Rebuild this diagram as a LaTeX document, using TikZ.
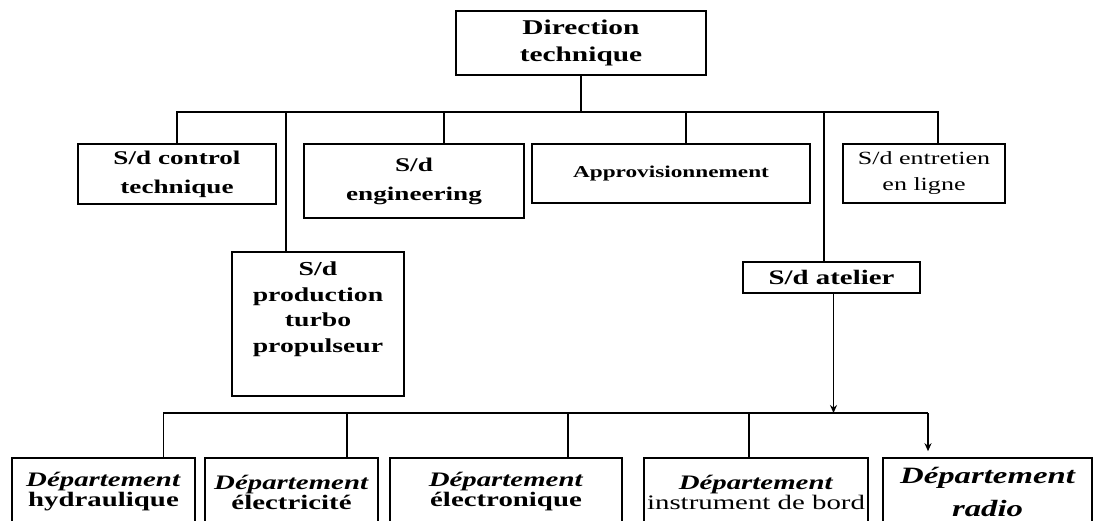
\documentclass[tikz,border=0pt]{standalone}
\usepackage{fontspec}
\setmainfont{Liberation Serif}[FakeStretch=1.4]
\usetikzlibrary{arrows.meta}

\tikzset{
  box/.style={draw, line width=0.8pt, inner sep=1pt, align=center},
  dept/.style={box, minimum height=34pt, font=\fontsize{10.3}{10}\selectfont\bfseries},
  link/.style={line width=0.7pt},
  tip/.style={link, -{Stealth[length=4pt,width=3.5pt]}}
}

\begin{document}
\begin{tikzpicture}[x=0.5pt,y=-0.5pt]
    \useasboundingbox (0,0) rectangle (1101,520);

    \node[box, minimum width=125pt, minimum height=32pt, font=\fontsize{10.5}{13.5}\selectfont\bfseries] (dir) at (581,43) {Direction\\technique};

    \node[box, minimum width=99pt, minimum height=30pt, font=\fontsize{9.7}{14.5}\selectfont\bfseries] (ctrl) at (177,174) {S/d control\\technique};
    \node[box, minimum width=110pt, minimum height=37pt, font=\fontsize{9.7}{14.5}\selectfont\bfseries] (eng) at (414,181) {S/d\\engineering};
    \node[box, minimum width=139pt, minimum height=29.5pt, font=\fontsize{8.3}{10}\selectfont\bfseries] (appro) at (671,173.5) {Approvisionnement};
    \node[box, minimum width=81pt, minimum height=29.5pt, font=\fontsize{9.3}{13}\selectfont] (entr) at (924,173.5) {S/d entretien\\en ligne};
    \node[box, minimum width=86pt, minimum height=72pt, font=\fontsize{9.9}{12.8}\selectfont\bfseries] (prod) at (318,324) {S/d\\production\\turbo\\propulseur\\[4pt]\mbox{}};
    \node[box, minimum width=88.5pt, minimum height=15.5pt, font=\fontsize{10.3}{12}\selectfont\bfseries] (atel) at (831.5,277.5) {S/d atelier};

    \node[dept, minimum width=91.5pt] (hyd) at (103.5,492) {\textit{Département}\\hydraulique};
    \node[dept, minimum width=86.5pt] (elec) at (291.5,492) {\textit{Département}\\électricité};
    \node[dept, minimum width=116pt] (electro) at (506,492) {\textit{Département}\\électronique};
    \node[dept, minimum width=112pt] (instr) at (756,492) {\textit{Département}\\\mdseries instrument de bord};
    \node[dept, minimum width=104.5pt, font=\fontsize{11.7}{16.5}\selectfont\bfseries\itshape] (radio) at (987.5,492) {Département\\radio};

    \coordinate (t) at (0,112);
    \coordinate (b) at (0,413);

    \draw[link] (dir.south) -- (dir.south |- t);
    \draw[link] (ctrl.north) -- (ctrl.north |- t) -- ([xshift=7pt]entr.north |- t) -- ([xshift=7pt]entr.north);
    \draw[link] ([xshift=-16pt]prod.north) -- ([xshift=-16pt]prod.north |- t);
    \draw[link] ([xshift=15pt]eng.north) -- ([xshift=15pt]eng.north |- t);
    \draw[link] ([xshift=7.5pt]appro.north) -- ([xshift=7.5pt]appro.north |- t);
    \draw[link] ([xshift=-3.75pt]atel.north) -- ([xshift=-3.75pt]atel.north |- t);

    \draw[tip] ([xshift=1pt]atel.south) -- ([xshift=1pt]atel.south |- b);
    \draw[link] ([xshift=30pt]hyd.north) -- ([xshift=30pt]hyd.north |- b) -- ([xshift=-29.75pt]radio.north |- b);
    \draw[tip, shorten >=3pt] ([xshift=-29.75pt]radio.north |- b) -- ([xshift=-29.75pt]radio.north);
    \draw[link] ([xshift=27.75pt]elec.north) -- ([xshift=27.75pt]elec.north |- b);
    \draw[link] ([xshift=31pt]electro.north) -- ([xshift=31pt]electro.north |- b);
    \draw[link] ([xshift=-3.5pt]instr.north) -- ([xshift=-3.5pt]instr.north |- b);
\end{tikzpicture}
\end{document}
